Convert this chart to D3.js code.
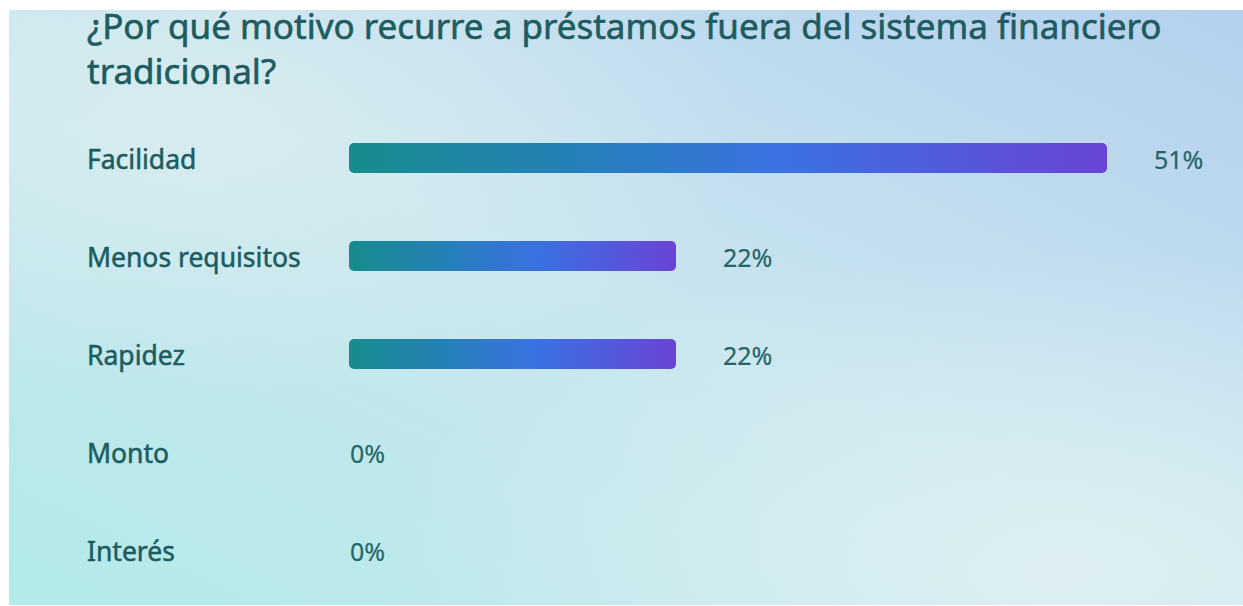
<!DOCTYPE html>
<html lang="es">
<head>
<meta charset="UTF-8">
<title>Préstamos fuera del sistema financiero</title>
<style>
  html, body { margin: 0; padding: 0; background: #fff; }
  svg { display: block; }
  text { font-family: "Segoe UI", "Noto Sans", sans-serif; }
</style>
</head>
<body>
<svg width="1243" height="606"></svg>
<script src="https://cdn.jsdelivr.net/npm/d3@7"></script>
<script>
(function() {
    'use strict';

    var WIDTH = 1243;
    var HEIGHT = 606;

    // data
    var titleLines = ["¿Por qué motivo recurre a préstamos fuera del sistema financiero", "tradicional?"];
    var categories = ["Facilidad", "Menos requisitos", "Rapidez", "Monto", "Interés"];
    var values = [51, 22, 22, 0, 0];

    var BAR_LEFT = 349;
    var BAR_H = 30;
    var LABEL_X = 87;
    var TEXT_COLOR = "#1d5c5f";

    var svg = d3.select("svg");
    var defs = svg.append("defs");

    // background gradients
    var bg = defs.append("linearGradient")
        .attr("id", "bg").attr("x1", "0").attr("y1", "1").attr("x2", "1").attr("y2", "0");
    bg.append("stop").attr("offset", "0%").attr("stop-color", "#b3eaea");
    bg.append("stop").attr("offset", "50%").attr("stop-color", "#c9e6ee");
    bg.append("stop").attr("offset", "100%").attr("stop-color", "#b5d0ee");

    var glowTL = defs.append("radialGradient")
        .attr("id", "glowTL").attr("cx", "0.15").attr("cy", "0.2").attr("r", "0.45");
    glowTL.append("stop").attr("offset", "0%").attr("stop-color", "#dcedf1").attr("stop-opacity", 0.8);
    glowTL.append("stop").attr("offset", "100%").attr("stop-color", "#dcedf1").attr("stop-opacity", 0);

    var glowBR = defs.append("radialGradient")
        .attr("id", "glowBR").attr("cx", "0.85").attr("cy", "0.95").attr("r", "0.55");
    glowBR.append("stop").attr("offset", "0%").attr("stop-color", "#dff0f3").attr("stop-opacity", 0.95);
    glowBR.append("stop").attr("offset", "100%").attr("stop-color", "#dff0f3").attr("stop-opacity", 0);

    // bar gradient (each bar has its own full gradient)
    var barGrad = defs.append("linearGradient")
        .attr("id", "barGrad").attr("x1", "0").attr("y1", "0").attr("x2", "1").attr("y2", "0");
    barGrad.append("stop").attr("offset", "0%").attr("stop-color", "#168d8c");
    barGrad.append("stop").attr("offset", "28%").attr("stop-color", "#2481b6");
    barGrad.append("stop").attr("offset", "57%").attr("stop-color", "#3a72e2");
    barGrad.append("stop").attr("offset", "100%").attr("stop-color", "#6944d4");

    var panel = svg.append("g");
    ["url(#bg)", "url(#glowTL)", "url(#glowBR)"].forEach(function(f) {
        panel.append("rect")
            .attr("x", 9).attr("y", 10)
            .attr("width", WIDTH - 9).attr("height", HEIGHT - 11)
            .attr("fill", f);
    });

    // title (regular face with a thin stroke to look semibold)
    var title = svg.append("text")
        .attr("x", LABEL_X)
        .attr("y", 39)
        .attr("fill", TEXT_COLOR)
        .attr("stroke", TEXT_COLOR)
        .attr("stroke-width", 0.6)
        .attr("font-size", 35);
    title.selectAll("tspan")
        .data(titleLines)
        .enter()
        .append("tspan")
        .attr("x", LABEL_X)
        .attr("dy", function(d, i) { return i === 0 ? 0 : 45; })
        .text(function(d) { return d; });

    // scales
    var x = d3.scaleLinear()
        .domain([0, d3.max(values)])
        .range([BAR_LEFT, 1107]);

    var y = d3.scalePoint()
        .domain(categories)
        .range([158, 550]);

    var rows = svg.selectAll(".row")
        .data(categories.map(function(c, i) { return { name: c, value: values[i] }; }))
        .enter()
        .append("g")
        .attr("class", "row")
        .attr("transform", function(d) { return "translate(0," + y(d.name) + ")"; });

    rows.append("text")
        .attr("x", LABEL_X)
        .attr("y", 11)
        .attr("fill", TEXT_COLOR)
        .attr("stroke", TEXT_COLOR)
        .attr("stroke-width", 0.5)
        .attr("font-size", 26.5)
        .text(function(d) { return d.name; });

    rows.filter(function(d) { return d.value > 0; })
        .append("rect")
        .attr("x", x(0))
        .attr("y", -BAR_H / 2)
        .attr("width", function(d) { return x(d.value) - x(0); })
        .attr("height", BAR_H)
        .attr("rx", 5).attr("ry", 5)
        .attr("fill", "url(#barGrad)");

    rows.append("text")
        .attr("x", function(d) { return d.value > 0 ? x(d.value) + 47 : x(0) + 1; })
        .attr("y", 11)
        .attr("fill", "#23666a")
        .attr("stroke", "#23666a")
        .attr("stroke-width", 0.2)
        .attr("font-size", 25)
        .text(function(d) { return d.value + "%"; });
})();
</script>
</body>
</html>
